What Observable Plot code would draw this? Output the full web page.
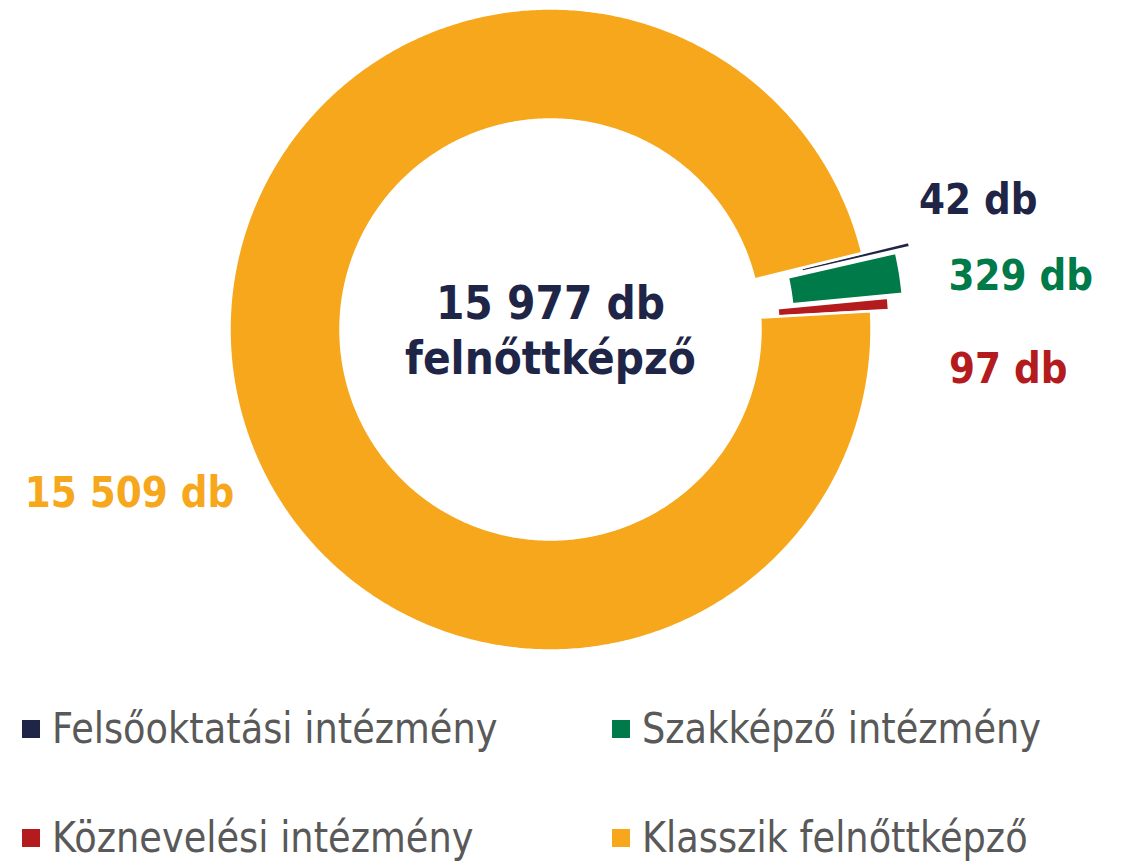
<!DOCTYPE html>
<html><head><meta charset="utf-8">
<script src="https://cdn.jsdelivr.net/npm/d3@7"></script>
<script src="https://cdn.jsdelivr.net/npm/@observablehq/plot@0.6"></script>
<style>
html,body{margin:0;padding:0;background:#fff;}
#chart svg{display:block;}
#legend{position:relative;width:1122px;height:171px;font-family:"DejaVu Sans";font-size:42px;color:#595959;}
.item{position:absolute;white-space:nowrap;line-height:42px;height:42px;}
.sw{display:inline-block;width:18px;height:18px;vertical-align:5px;margin-right:11.5px;}
.lbl{display:inline-block;transform:scaleX(0.875);transform-origin:0 50%;}
</style></head><body>
<div id="chart"></div>
<div id="legend"></div>
<script>
// ---- data ----
const categories = ["Felsőoktatási intézmény", "Szakképző intézmény", "Köznevelési intézmény", "Klasszik felnőttképző"];
const values = [42, 329, 97, 15509];
const centerLabel = "felnőttképző";
const unit = "db";

// ---- styles / layout ----
const colors = ["#1F2546", "#007A48", "#B31B1E", "#F6A71B"];
const explode = [48, 33, 18, 0];          // px offset of each slice
const labelNudgeX = [-15, 21, 4, 29];
const labelNudgeY = [24, -19, -75, -97];
const startDeg = 76.2;
const Rout = 321, Rin = 210, labelR = 455;

const fmt = d3.formatLocale({thousands: " ", grouping: [3], decimal: ",", currency: ["", ""]}).format(",d");
const total = d3.sum(values);

const rows = categories.map((c, i) => ({cat: c, value: values[i], i}));
const a0 = startDeg * Math.PI / 180;
const arcs = d3.pie().sort(null).value(d => d.value).startAngle(a0).endAngle(a0 + 2 * Math.PI)(rows);

function ring(a) {
  const off = explode[a.data.i];
  const mid = (a.startAngle + a.endAngle) / 2;
  const ox = off * Math.sin(mid), oy = off * Math.cos(mid);
  const n = Math.max(2, Math.ceil((a.endAngle - a.startAngle) / (Math.PI / 360)));
  const pts = [];
  for (let k = 0; k <= n; k++) {
    const t = a.startAngle + (a.endAngle - a.startAngle) * k / n;
    pts.push({x: ox + Rout * Math.sin(t), y: oy + Rout * Math.cos(t)});
  }
  for (let k = n; k >= 0; k--) {
    const t = a.startAngle + (a.endAngle - a.startAngle) * k / n;
    pts.push({x: ox + Rin * Math.sin(t), y: oy + Rin * Math.cos(t)});
  }
  return pts;
}
const midA = a => (a.startAngle + a.endAngle) / 2;

const plot = Plot.plot({
  width: 1122, height: 690, margin: 0,
  x: {domain: [-550, 572], axis: null},
  y: {domain: [-361, 329], axis: null},
  color: {domain: categories, range: colors},
  style: {fontFamily: "DejaVu Sans", background: "white"},
  marks: [
    ...arcs.map(a => Plot.line(ring(a), {x: "x", y: "y", fill: colors[a.data.i], stroke: "white", strokeWidth: 2.5, curve: "linear-closed"})),
    Plot.text([{x: 0, y: 1}], {x: "x", y: "y", text: () => `${fmt(total)} ${unit}\n${centerLabel}`,
      fill: colors[0], fontSize: 47, fontWeight: "bold", lineHeight: 1.17, lineAnchor: "middle", textAnchor: "middle"}),
    Plot.text(arcs, {
      x: a => labelR * Math.sin(midA(a)) + labelNudgeX[a.data.i],
      y: a => labelR * Math.cos(midA(a)) + labelNudgeY[a.data.i],
      text: a => `${fmt(a.data.value)} ${unit}`,
      fill: a => a.data.cat,
      fontSize: 42, fontWeight: "bold", lineAnchor: "middle", textAnchor: "middle"})
  ]
});
document.getElementById("chart").appendChild(plot);

// horizontal compression of the bold labels (narrow Verdana-like look)
const tg = plot.querySelectorAll('g[aria-label="text"]');
const factors = [0.87, 0.89];
tg.forEach((g, gi) => {
  g.querySelectorAll("text").forEach(t => {
    const tr = t.getAttribute("transform") || "";
    t.setAttribute("transform", `${tr} scale(${factors[gi]},1)`);
  });
});

// legend
const legend = d3.select("#legend");
categories.forEach((c, i) => {
  const col = i % 2, row = Math.floor(i / 2);
  const item = legend.append("div").attr("class", "item")
    .style("left", `${22 + col * 590}px`).style("top", `${17.5 + row * 109}px`);
  item.append("span").attr("class", "sw").style("background", colors[i]);
  item.append("span").attr("class", "lbl").text(c);
});
</script>
</body></html>
